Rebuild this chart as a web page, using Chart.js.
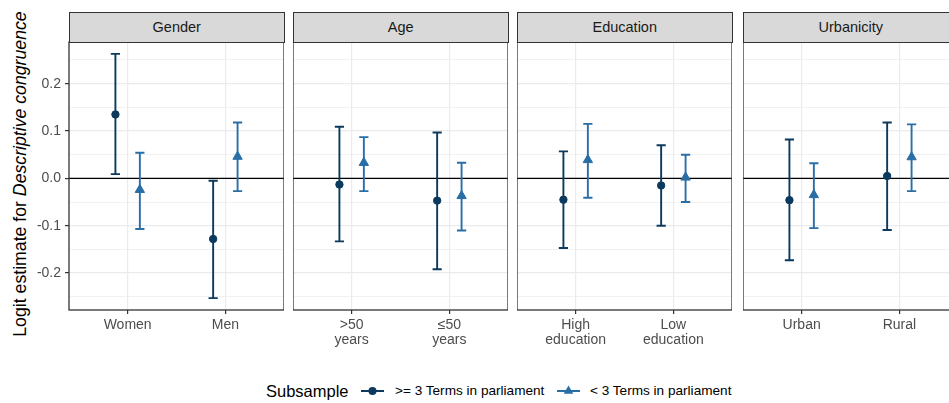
<!DOCTYPE html>
<html>
<head>
<meta charset="utf-8">
<title>Logit estimates by subsample</title>
<script src="https://cdn.jsdelivr.net/npm/chart.js@4.4.1/dist/chart.umd.min.js"></script>
<style>
  html, body { margin: 0; padding: 0; background: #fff; }
  body { width: 949px; height: 403px; position: relative; overflow: hidden;
         font-family: "Liberation Sans", Arial, Helvetica, sans-serif; }
  .panel { position: absolute; top: 0; height: 403px; }
  .strip { position: absolute; top: 12px; height: 31px; background: #d9d9d9;
           border: 1.3px solid #333; box-sizing: border-box; color: #1a1a1a;
           font-size: 14.5px; text-align: center; line-height: 28px; }
  #ytitle { position: absolute; left: 20px; top: 174px; white-space: nowrap;
            transform: translate(-50%, -50%) rotate(-90deg); font-size: 17.7px; color: #000; }
  .leg { position: absolute; top: 380px; height: 22px; line-height: 22px; white-space: nowrap; color: #000; }
  .leg svg { display: block; margin-top: 5px; }
</style>
</head>
<body>
<div id="ytitle">Logit estimate for <i>Descriptive congruence</i></div>

<div class="leg" style="left:266px; font-size:16.5px;">Subsample</div>
<div class="leg" style="left:361px;"><svg width="23" height="12"><line x1="0" y1="6" x2="23" y2="6" stroke="#0b3a5e" stroke-width="2"/><circle cx="11.5" cy="6" r="4" fill="#0b3a5e"/></svg></div>
<div class="leg" style="left:395px; font-size:13.6px;">&gt;= 3 Terms in parliament</div>
<div class="leg" style="left:557px;"><svg width="23" height="12"><line x1="0" y1="6" x2="23" y2="6" stroke="#2a6ea6" stroke-width="2"/><polygon points="11.5,0.5 16.3,8.8 6.7,8.8" fill="#2a6ea6"/></svg></div>
<div class="leg" style="left:590px; font-size:13.6px;">&lt; 3 Terms in parliament</div>

<script>
// facets and categories (two per facet)
const facets = ['Gender', 'Age', 'Education', 'Urbanicity'];
const categories = [
  ['Women', 'Men'],
  [['>50', 'years'], ['≤50', 'years']],
  [['High', 'education'], ['Low', 'education']],
  ['Urban', 'Rural']
];
const seriesNames = ['>= 3 Terms in parliament', '< 3 Terms in parliament'];

// >= 3 terms: estimate and interval, in category order across facets
const seniorEst = [0.135, -0.128, -0.013, -0.047, -0.045, -0.015, -0.046, 0.005];
const seniorLo  = [0.009, -0.253, -0.133, -0.192, -0.147, -0.100, -0.173, -0.109];
const seniorHi  = [0.263, -0.005, 0.109, 0.097, 0.057, 0.070, 0.082, 0.118];

// < 3 terms
const juniorEst = [-0.024, 0.046, 0.033, -0.037, 0.039, 0.002, -0.035, 0.045];
const juniorLo  = [-0.107, -0.027, -0.027, -0.110, -0.041, -0.050, -0.105, -0.027];
const juniorHi  = [0.054, 0.118, 0.087, 0.033, 0.115, 0.050, 0.032, 0.114];

// y axis ticks
const majorTicks = [-0.2, -0.1, 0, 0.1, 0.2];
const majorLabels = ['-0.2', '-0.1', '0.0', '0.1', '0.2'];
const minorTicks = [-0.25, -0.15, -0.05, 0.05, 0.15, 0.25];
const refLine = 0;

const colors = ['#0b3a5e', '#2a6ea6'];
const shapes = ['circle', 'triangle'];
const dodge = 0.125;
const capHalf = 0.047;
const panelLefts = [69, 293, 517, 743];
const panelWidth = 215;
const yAxisW = 69;

// errorbars + zero line + panel border
const errorBars = {
  id: 'errorBars',
  beforeDatasetsDraw(chart) {
    const { ctx, chartArea: a, scales: { x, y } } = chart;
    ctx.save();
    const y0 = y.getPixelForValue(refLine);
    ctx.strokeStyle = '#000';
    ctx.lineWidth = 1.2;
    ctx.beginPath();
    ctx.moveTo(a.left, y0);
    ctx.lineTo(a.right, y0);
    ctx.stroke();
    chart.data.datasets.forEach((ds, di) => {
      const meta = chart.getDatasetMeta(di);
      ctx.strokeStyle = ds.borderColor;
      ctx.lineWidth = 1.9;
      meta.data.forEach((pt, j) => {
        const xv = ds.data[j].x;
        const px = x.getPixelForValue(xv);
        const xl = x.getPixelForValue(xv - capHalf);
        const xr = x.getPixelForValue(xv + capHalf);
        const yl = y.getPixelForValue(ds.lo[j]);
        const yh = y.getPixelForValue(ds.hi[j]);
        ctx.beginPath();
        ctx.moveTo(px, yl); ctx.lineTo(px, yh);
        ctx.moveTo(xl, yl); ctx.lineTo(xr, yl);
        ctx.moveTo(xl, yh); ctx.lineTo(xr, yh);
        ctx.stroke();
      });
    });
    ctx.restore();
  },
  afterDraw(chart) {
    const { ctx, chartArea: a } = chart;
    ctx.save();
    ctx.strokeStyle = '#333';
    ctx.lineWidth = 1.3;
    ctx.strokeRect(a.left, a.top, a.right - a.left, a.bottom - a.top);
    ctx.restore();
  }
};

facets.forEach((name, p) => {
  const first = p === 0;
  const wrap = document.createElement('div');
  wrap.className = 'panel';
  const left = first ? 0 : panelLefts[p];
  const width = first ? panelLefts[0] + panelWidth : panelWidth;
  wrap.style.left = left + 'px';
  wrap.style.width = width + 'px';
  const canvas = document.createElement('canvas');
  wrap.appendChild(canvas);
  document.body.appendChild(wrap);

  const strip = document.createElement('div');
  strip.className = 'strip';
  strip.style.left = panelLefts[p] + 'px';
  strip.style.width = (panelWidth + 0.5) + 'px';
  strip.textContent = name;
  document.body.appendChild(strip);

  const idx = [2 * p, 2 * p + 1];
  const sets = [
    { est: seniorEst, lo: seniorLo, hi: seniorHi },
    { est: juniorEst, lo: juniorLo, hi: juniorHi }
  ].map((s, si) => ({
    label: seriesNames[si],
    data: idx.map((k, c) => ({ x: c + 1 + (si === 0 ? -dodge : dodge), y: s.est[k] })),
    lo: idx.map(k => s.lo[k]),
    hi: idx.map(k => s.hi[k]),
    backgroundColor: colors[si],
    borderColor: colors[si],
    borderWidth: 1,
    pointStyle: shapes[si],
    pointRadius: si === 0 ? 3.7 : 5.4,
    pointHoverRadius: si === 0 ? 3.7 : 5.4
  }));

  new Chart(canvas, {
    type: 'scatter',
    data: { datasets: sets },
    options: {
      responsive: true,
      maintainAspectRatio: false,
      animation: false,
      events: [],
      layout: { autoPadding: false, padding: { top: 42, left: 0, right: 0, bottom: 0 } },
      plugins: { legend: { display: false }, tooltip: { enabled: false } },
      scales: {
        x: {
          type: 'linear',
          min: 0.4,
          max: 2.6,
          afterBuildTicks: (s) => { s.ticks = [{ value: 1 }, { value: 2 }]; },
          afterFit: (s) => { s.height = 93; },
          border: { display: false },
          grid: { color: '#ebebeb', lineWidth: 1.2, tickColor: '#333', tickLength: 4 },
          ticks: {
            autoSkip: false,
            maxRotation: 0,
            padding: 3,
            color: '#4d4d4d',
            font: { family: '"Liberation Sans", Arial, sans-serif', size: 14, lineHeight: 1.1 },
            callback: (v) => categories[p][Math.round(v) - 1]
          }
        },
        y: {
          type: 'linear',
          min: -0.278,
          max: 0.288,
          afterBuildTicks: (s) => {
            s.ticks = majorTicks.concat(minorTicks).sort((a, b) => a - b).map(v => ({ value: v }));
          },
          afterFit: (s) => { s.width = first ? yAxisW : 0; },
          border: { display: false },
          grid: {
            color: '#ebebeb',
            lineWidth: (c) => majorTicks.includes(c.tick.value) ? 1.2 : 0.7,
            tickColor: (c) => majorTicks.includes(c.tick.value) ? '#333' : 'rgba(0,0,0,0)',
            tickLength: 4,
            drawTicks: first
          },
          ticks: {
            display: first,
            autoSkip: false,
            padding: 4,
            color: '#4d4d4d',
            font: { family: '"Liberation Sans", Arial, sans-serif', size: 14 },
            callback: (v) => {
              const i = majorTicks.indexOf(v);
              return i >= 0 ? majorLabels[i] : '';
            }
          }
        }
      }
    },
    plugins: [errorBars]
  });
});
</script>
</body>
</html>
